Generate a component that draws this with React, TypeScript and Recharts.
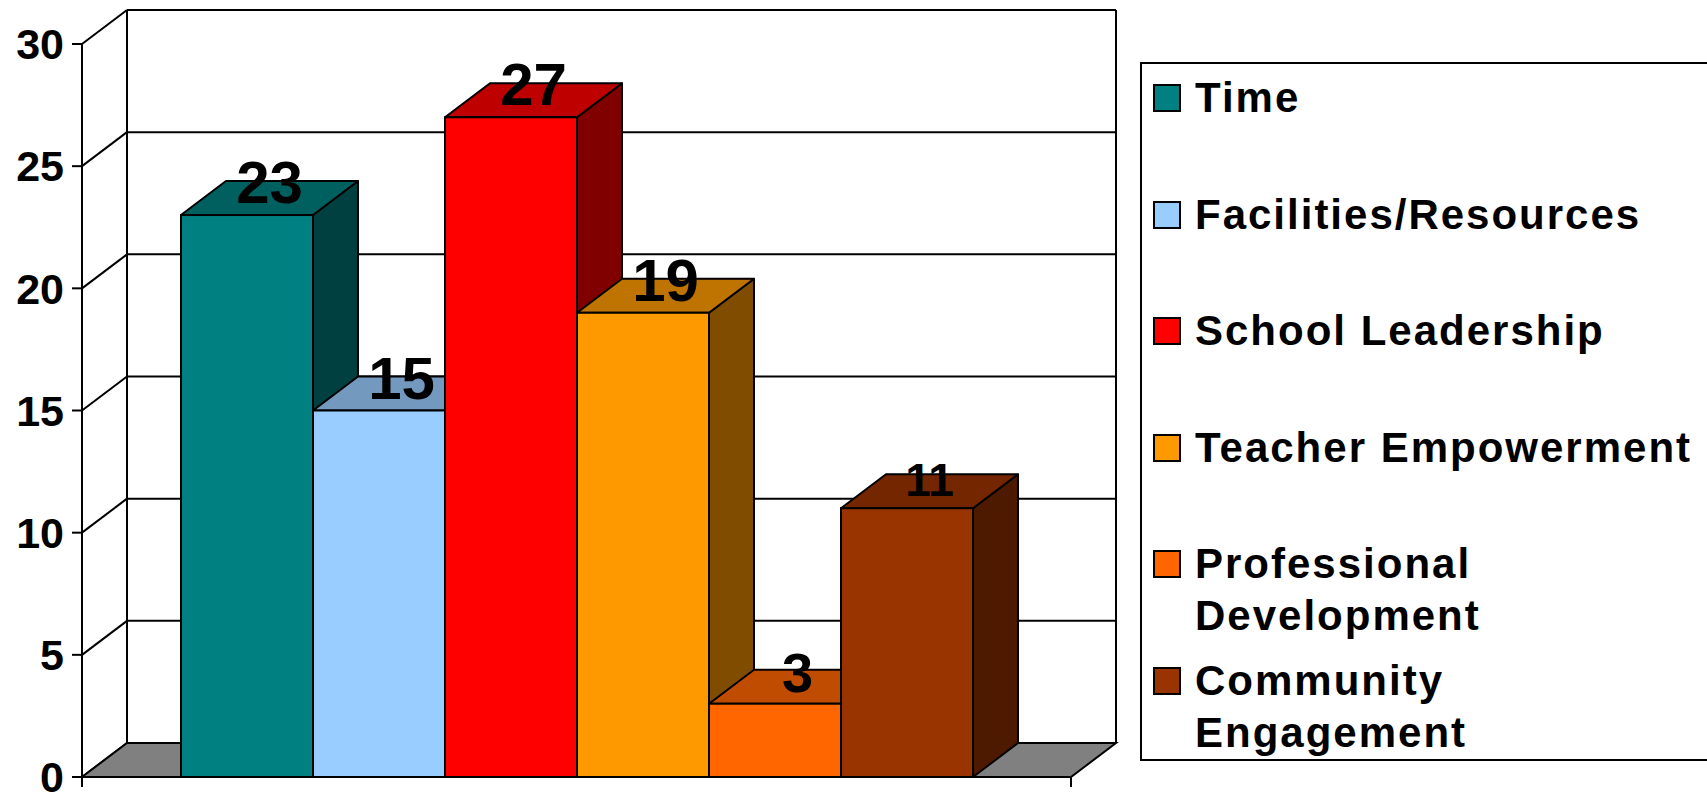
import { Bar, BarChart, CartesianGrid, LabelList, Legend, ReferenceArea, XAxis, YAxis } from 'recharts'

const categories = [
  'Time',
  'Facilities/Resources',
  'School Leadership',
  'Teacher Empowerment',
  'Professional Development',
  'Community Engagement',
]
const counts = [23, 15, 27, 19, 3, 11]
const yTicks = [0, 5, 10, 15, 20, 25, 30]

const keys = categories.map((_, i) => `s${i}`)
const data = [Object.fromEntries([['group', ''], ...keys.map((k, i) => [k, counts[i]])])]

// face colours of the 3d boxes: front, top, right side
const FRONT = ['#008080', '#99ccff', '#ff0000', '#ff9900', '#ff6600', '#993300']
const TOP = ['#006060', '#7399bf', '#bf0000', '#bf7300', '#bf4c00', '#732600']
const SIDE = ['#004040', '#4d6680', '#800000', '#804d00', '#803300', '#4d1a00']
const LABEL_SIZE = [60, 60, 60, 60, 56, 46]

const DX = 45
const DY = 34
const FONT = '"Liberation Sans", Arial, sans-serif'

function Box3D(p: any) {
  const { x, y, width: w, height: h, i } = p
  return (
    <g>
      <polygon
        points={`${x + w},${y} ${x + w + DX},${y - DY} ${x + w + DX},${y + h - DY} ${x + w},${y + h}`}
        fill={SIDE[i]}
        stroke="#000"
        strokeWidth={2}
        strokeLinejoin="round"
      />
      <polygon
        points={`${x},${y} ${x + DX},${y - DY} ${x + w + DX},${y - DY} ${x + w},${y}`}
        fill={TOP[i]}
        stroke="#000"
        strokeWidth={2}
        strokeLinejoin="round"
      />
      <rect x={x} y={y} width={w} height={h} fill={FRONT[i]} stroke="#000" strokeWidth={2} />
    </g>
  )
}

// horizontal grid line pushed onto the back wall, with its diagonal on the side wall
function WallLine(p: any) {
  const { x1, x2, y1, index } = p
  return (
    <g key={`wall-${index}`}>
      <line x1={x1} y1={y1} x2={x1 + DX} y2={y1 - DY} stroke="#000" strokeWidth={2} />
      <line x1={x1 + DX} y1={y1 - DY} x2={x2 + DX} y2={y1 - DY} stroke="#000" strokeWidth={2} />
    </g>
  )
}

function Floor(p: any) {
  const { x, y, width: w, height: h } = p
  const b = y + h
  return (
    <g>
      <polygon
        points={`${x},${b} ${x + DX},${b - DY} ${x + w + DX},${b - DY} ${x + w},${b}`}
        fill="#808080"
        stroke="#000"
        strokeWidth={2}
      />
      <line x1={x + DX} y1={y - DY} x2={x + DX} y2={b - DY} stroke="#000" strokeWidth={2} />
      <line x1={x + w + DX} y1={y - DY} x2={x + w + DX} y2={b - DY} stroke="#000" strokeWidth={2} />
      <line x1={x} y1={b} x2={x} y2={b + 10} stroke="#000" strokeWidth={2} />
      <line x1={x + w} y1={b} x2={x + w} y2={b + 10} stroke="#000" strokeWidth={2} />
    </g>
  )
}

function LegendBox() {
  return (
    <div
      style={{
        width: 580,
        height: 699,
        border: '2px solid #000',
        boxSizing: 'border-box',
        position: 'relative',
        background: '#fff',
        fontFamily: FONT,
      }}
    >
      {categories.map((name, i) => (
        <div
          key={name}
          style={{ position: 'absolute', left: 11, top: 8 + i * 116.5, display: 'flex', alignItems: 'flex-start' }}
        >
          <span
            style={{
              width: 28,
              height: 28,
              marginTop: 12,
              background: FRONT[i],
              border: '2px solid #000',
              boxSizing: 'border-box',
              flex: 'none',
            }}
          />
          <span
            style={{
              marginLeft: 14,
              width: 515,
              fontSize: 42,
              fontWeight: 700,
              lineHeight: '52px',
              letterSpacing: 2,
              color: '#000',
            }}
          >
            {name}
          </span>
        </div>
      ))}
    </div>
  )
}

function makeLabel(i: number) {
  return (p: any) => {
    const { x, y, width, value } = p
    return (
      <text
        x={x + width / 2 + DX / 2}
        y={y - 12}
        textAnchor="middle"
        fontSize={LABEL_SIZE[i]}
        fontWeight={700}
        fontFamily={FONT}
        fill="#000"
      >
        {value}
      </text>
    )
  }
}

export default function App() {
  return (
    <div
      style={{
        position: 'absolute',
        left: 0,
        top: 0,
        width: 1707,
        height: 793,
        overflow: 'hidden',
        background: '#fff',
        fontFamily: FONT,
      }}
    >
      <BarChart
        width={1707}
        height={793}
        data={data}
        margin={{ top: 44, right: 636, left: 0, bottom: 0 }}
        barGap={0}
      >
        <CartesianGrid vertical={false} horizontal={WallLine} />
        <ReferenceArea y1={0} y2={30} shape={Floor} ifOverflow="visible" zIndex={-50} />
        <XAxis
          dataKey="group"
          height={16}
          tick={false}
          tickLine={false}
          axisLine={{ stroke: '#000', strokeWidth: 2 }}
        />
        <YAxis
          width={82}
          domain={[0, 30]}
          ticks={yTicks}
          interval={0}
          tickSize={10}
          tickMargin={8}
          axisLine={{ stroke: '#000', strokeWidth: 2 }}
          tickLine={{ stroke: '#000', strokeWidth: 2 }}
          tick={{ fontSize: 43, fontWeight: 700, fill: '#000', fontFamily: FONT }}
        />
        <Legend
          layout="vertical"
          align="center"
          verticalAlign="middle"
          wrapperStyle={{ left: 1140, top: 62, width: 580 }}
          content={LegendBox}
        />
        {keys.map((k, i) => (
          <Bar
            key={k}
            dataKey={k}
            name={categories[i]}
            fill={FRONT[i]}
            barSize={132}
            isAnimationActive={false}
            shape={(p: any) => <Box3D {...p} i={i} />}
          >
            <LabelList dataKey={k} content={makeLabel(i)} />
          </Bar>
        ))}
      </BarChart>
    </div>
  )
}
